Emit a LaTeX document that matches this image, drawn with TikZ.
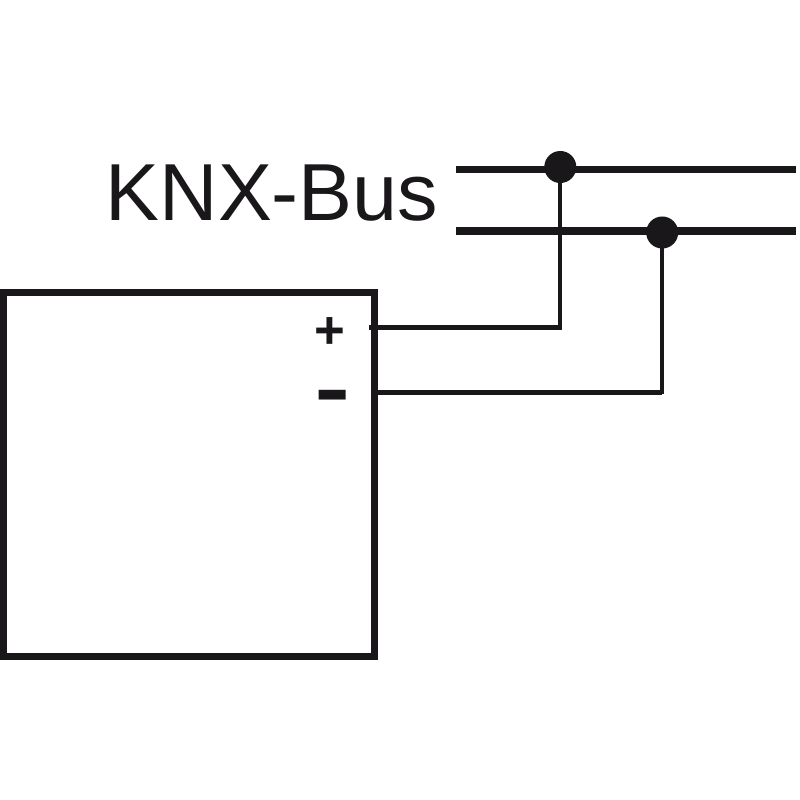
\documentclass[tikz,border=0pt]{standalone}
\usepackage{fontspec}
\setmainfont{Liberation Sans}
\definecolor{ink}{HTML}{1A171B}
\tikzset{px/.style={x=0.01cm,y=-0.01cm},
 bus/.style={line width=0.073cm,draw=ink},
 hwire/.style={line width=0.05cm,draw=ink},
 vwirea/.style={line width=0.043cm,draw=ink,line cap=rect},
 vwireb/.style={line width=0.035cm,draw=ink,line cap=rect},
 dot/.style={circle,fill=ink,inner sep=0pt,minimum size=0.32cm},
 lab/.style={inner sep=0pt,text=ink}}
\begin{document}
\begin{tikzpicture}[px]
\useasboundingbox[fill=white] (0,0) rectangle (800,800);
\node[draw=ink,line width=0.07cm,minimum width=3.707cm,minimum height=3.638cm,inner sep=0pt,outer sep=0pt] (box) at (189,474.4) {};
\node[lab,anchor=base west,font=\fontsize{23pt}{23pt}\selectfont] (title) at (105,220.5) {KNX-Bus};
\coordinate (b1a) at (456.3,169.7); \coordinate (b1b) at (796,169.7);
\coordinate (b2a) at (456.3,231); \coordinate (b2b) at (796,231);
\draw[bus] (b1a) -- (b1b);
\draw[bus] (b2a) -- (b2b);
\node[dot] (d1) at (560.3,167) {};
\node[dot] (d2) at (662.2,232.5) {};
\coordinate (p) at (369.3,327.8);
\coordinate (m) at (376,392.5);
\draw[hwire] (p) -- (p -| d1);
\draw[vwirea] (p -| d1) -- (d1);
\draw[hwire] (m) -- (m -| d2);
\draw[vwireb] (m -| d2) -- (d2);
\node[lab,font=\fontsize{15pt}{15pt}\bfseries\selectfont] (plus) at (329.8,333) {+};
\node[lab,font=\fontsize{15.5pt}{15.5pt}\bfseries\selectfont,yscale=1.8] (minus) at (332.5,406) {–};
\end{tikzpicture}
\end{document}
